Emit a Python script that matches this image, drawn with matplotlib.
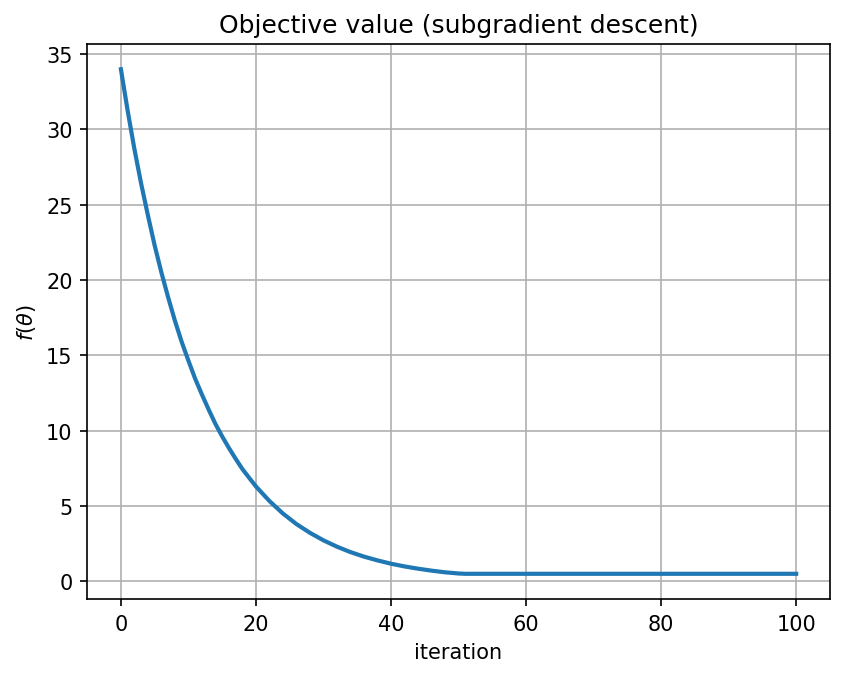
import matplotlib
matplotlib.use("Agg")
import matplotlib.pyplot as plt

# objective value (iteration, f)
iters = [0, 1, 2, 3, 4, 5, 6, 7, 8, 9, 10, 11, 12, 13, 14, 15, 16, 17, 18,
         19, 20, 22, 24, 26, 28, 30, 32, 34, 36, 38, 40, 42, 44, 46, 48,
         50, 51, 100]
fvals = [34.0, 31.25, 28.7, 26.4, 24.3, 22.3, 20.5, 18.85, 17.3, 15.9,
         14.65, 13.45, 12.4, 11.4, 10.45, 9.62, 8.85, 8.13, 7.45, 6.87,
         6.3, 5.33, 4.5, 3.8, 3.22, 2.72, 2.3, 1.94, 1.64, 1.39,
         1.17, 0.99, 0.84, 0.71, 0.6, 0.52, 0.5, 0.5]

fig = plt.figure(figsize=(5.64, 4.52), dpi=150)
ax = fig.add_subplot(111)
fig.subplots_adjust(left=0.103, right=0.981, top=0.9336, bottom=0.115)

ax.plot(iters, fvals, color="#1f77b4", linewidth=2)
ax.set_title("Objective value (subgradient descent)")
ax.set_xlabel("iteration")
ax.set_ylabel(r"$f(\theta)$")
ax.grid(True)

fig.savefig("out.png", dpi=150)
